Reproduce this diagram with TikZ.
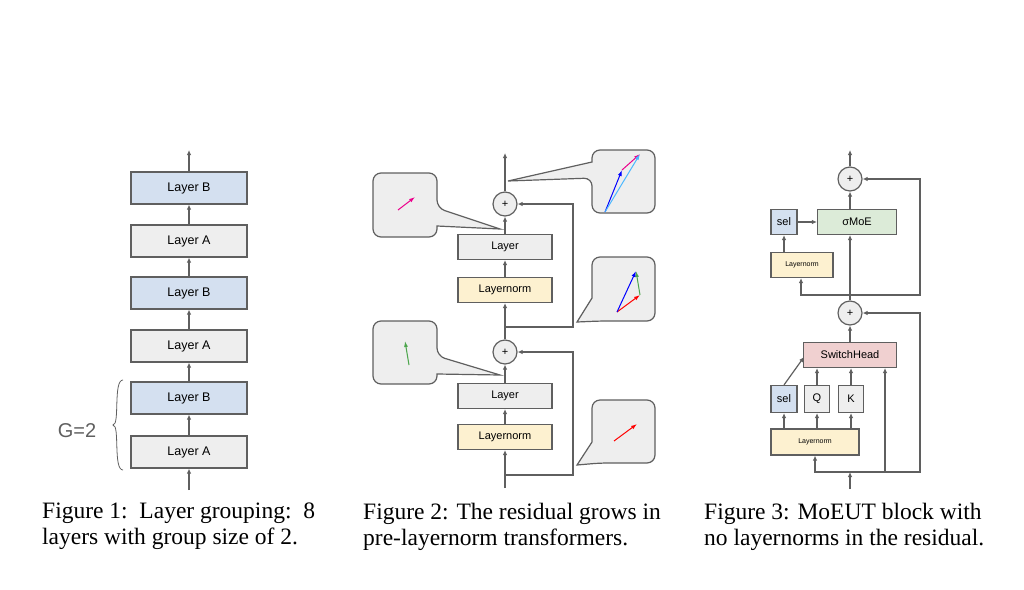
\documentclass[tikz,border=0pt]{standalone}
\usepackage{fontspec}
\setmainfont{Liberation Serif}
\newfontfamily\boxfont{Liberation Sans}
\usetikzlibrary{positioning,calc,arrows.meta}
\definecolor{lblue}{HTML}{D4E0F0}
\definecolor{lgray}{HTML}{EEEEEE}
\definecolor{lyellow}{HTML}{FDF1D0}
\definecolor{lgreen}{HTML}{DCEBD8}
\definecolor{lred}{HTML}{F0D0D0}
\definecolor{edge}{HTML}{5F5F5F}
\tikzset{blk/.style={draw=edge, line width=1.2pt, minimum height=25pt, inner sep=0pt, font=\boxfont\fontsize{11}{11}\selectfont}}
\tikzset{arr/.style={draw=edge, line width=1.2pt, -{Latex[length=5pt,width=4.5pt]}}}
\tikzset{ln/.style={draw=edge, line width=1.2pt}}
\tikzset{plus/.style={circle, draw=edge, line width=1.2pt, fill=lgray, minimum size=24pt, inner sep=0pt, font=\boxfont\fontsize{11}{11}\selectfont}}
\tikzset{bubble/.style={draw=edge, line width=1.2pt, fill=lgray}}
\tikzset{vec/.style={line width=1pt, -{Latex[length=6pt,width=4pt]}}}
\tikzset{figcap/.style={anchor=north west, align=left, inner sep=0pt, font=\fontsize{23.5}{26}\selectfont}}
\begin{document}
\begin{tikzpicture}[x=1pt, y=-1pt]
\useasboundingbox (0,0) rectangle (1024,589);
% figure 1
\foreach \n/\y/\t/\c in {a1/452/A/lgray, b1/398/B/lblue, a2/346/A/lgray, b2/293/B/lblue, a3/241/A/lgray, b3/188/B/lblue}
  \node[blk, fill=\c, minimum width=116pt, minimum height=32pt, font=\boxfont\fontsize{12.5}{12.5}\selectfont] (\n) at (189,\y) {Layer \t};
\coordinate (in1) at (189,490);
\coordinate (out1) at (189,150);
\draw[arr] (in1) -- (a1);
\draw[arr] (a1) -- (b1);
\draw[arr] (b1) -- (a2);
\draw[arr] (a2) -- (b2);
\draw[arr] (b2) -- (a3);
\draw[arr] (a3) -- (b3);
\draw[arr] (b3) -- (out1);
\draw[edge, line width=0.8pt] (123,380) .. controls (113,380) and (120,425) .. (113,425)
  .. controls (120,425) and (113,470) .. (123,470);
\node[text=edge, font=\boxfont\fontsize{20}{20}\selectfont] (g) at (77,431) {G=2};
% figure 2
\node[blk, fill=lyellow, minimum width=94pt] (ln1) at (505,437) {Layernorm};
\node[blk, fill=lgray, minimum width=94pt] (ly1) at (505,396) {Layer};
\node[plus] (p1) at (505,352) {+};
\node[blk, fill=lyellow, minimum width=94pt] (ln2) at (505,290) {Layernorm};
\node[blk, fill=lgray, minimum width=94pt] (ly2) at (505,247) {Layer};
\node[plus] (p2) at (505,204) {+};
\coordinate (in2) at (505,488);
\coordinate (s1) at (505,475);
\coordinate (s2) at (505,327);
\coordinate (out2) at (505,153);
\draw[ln] (in2) -- (s1);
\draw[arr] (s1) -- (ln1);
\draw[arr] (ln1) -- (ly1);
\draw[arr] (ly1) -- (p1);
\draw[ln] (p1) -- (s2);
\draw[arr] (s2) -- (ln2);
\draw[arr] (ln2) -- (ly2);
\draw[arr] (ly2) -- (p2);
\draw[arr] (p2) -- (out2);
\draw[arr] (s1) -| (573,352) -- (p1);
\draw[arr] (s2) -| (573,204) -- (p2);
% callouts
\draw[bubble] (405,173) [rounded corners=8] -- (437,173) -- (437,208) [sharp corners] -- (500,229) -- (437,226) [rounded corners=8] -- (437,237) -- (373,237) -- (373,173) -- (405,173);
\draw[bubble] (405,321) [rounded corners=8] -- (437,321) -- (437,356) [sharp corners] -- (500,375) -- (437,374) [rounded corners=8] -- (437,384) -- (373,384) -- (373,321) -- (405,321);
\draw[bubble] (620,150) [rounded corners=8] -- (655,150) -- (655,213) -- (592,213) -- (592,178) [sharp corners] -- (508,181) -- (592,162) [rounded corners=8] -- (592,150) -- (620,150);
\draw[bubble] (620,257) [rounded corners=8] -- (655,257) -- (655,321) -- (600,321) [sharp corners] -- (577,322) -- (592,298) [rounded corners=8] -- (592,257) -- (620,257);
\draw[bubble] (620,400) [rounded corners=8] -- (655,400) -- (655,463) -- (600,463) [sharp corners] -- (577,465) -- (592,442) [rounded corners=8] -- (592,400) -- (620,400);
\draw[vec, magenta] (398,210) -- (415,197);
\draw[vec, blue] (605,212) -- (622,170);
\draw[vec, magenta] (622,170) -- (640,154);
\draw[vec, blue!40!cyan!70!white] (605,212) -- (640,154);
\draw[vec, red] (617,312) -- (640,295);
\draw[vec, green!50!black!70!white] (640,295) -- (636,271);
\draw[vec, blue] (617,312) -- (636,271);
\draw[vec, green!50!black!70!white] (409,365) -- (405,341);
\draw[vec, red] (614,441) -- (637,424);
% figure 3
\node[blk, fill=lyellow, minimum width=88pt, minimum height=26pt, font=\boxfont\fontsize{7}{7}\selectfont] (ln3) at (815,442) {Layernorm};
\node[blk, fill=lblue, minimum width=26pt, minimum height=27pt] (sel1) at (784,399) {sel};
\node[blk, fill=lgray, minimum width=25pt, minimum height=27pt] (q) at (817,399) {Q};
\node[blk, fill=lgray, minimum width=25pt, minimum height=27pt] (k) at (851,399) {K};
\node[blk, fill=lred, minimum width=93pt] (sh) at (850,355) {SwitchHead};
\node[plus] (p3) at (850,313) {+};
\node[blk, fill=lyellow, minimum width=62pt, font=\boxfont\fontsize{7}{7}\selectfont] (ln4) at (802,265) {Layernorm};
\node[blk, fill=lblue, minimum width=26pt] (sel2) at (784,222) {sel};
\node[blk, fill=lgreen, minimum width=79pt] (moe) at (857,222) {σMoE};
\node[plus] (p4) at (850,179) {+};
\coordinate (in3) at (850,489);
\coordinate (s3) at (850,472);
\coordinate (s4) at (850,295);
\coordinate (out3) at (850,150);
\draw[arr] (in3) -- (s3);
\draw[arr] (s3) -| (ln3);
\draw[arr] (s3) -| (885,368);
\draw[arr] (s3) -| (920,313) -- (p3);
\draw[arr] (sel1.north) -- (804,357);
\draw[arr] (sel1.south |- ln3.north) -- (sel1);
\draw[arr] (q.south |- ln3.north) -- (q);
\draw[arr] (k.south |- ln3.north) -- (k);
\draw[arr] (q) -- (q.north |- sh.south);
\draw[arr] (k) -- (k.north |- sh.south);
\draw[arr] (sh) -- (p3);
\draw[ln] (p3) -- (s4);
\draw[arr] (s4) -- (850,235);
\draw[arr] (s4) -| (ln4.south -| 801,0);
\draw[arr] (s4) -| (920,179) -- (p4);
\draw[arr] (ln4.north -| sel2) -- (sel2);
\draw[arr] (sel2) -- (moe);
\draw[arr] (850,210) -- (p4);
\draw[arr] (p4) -- (out3);
% captions
\node[figcap] (c1) at (42,503) {Figure 1:\ \ Layer grouping:\ \ 8\\layers with group size of 2.};
\node[figcap] (c2) at (363,503) {Figure 2: The residual grows in\\pre-layernorm transformers.};
\node[figcap] (c3) at (704,503) {Figure 3: MoEUT block with\\no layernorms in the residual.};
\end{tikzpicture}
\end{document}
